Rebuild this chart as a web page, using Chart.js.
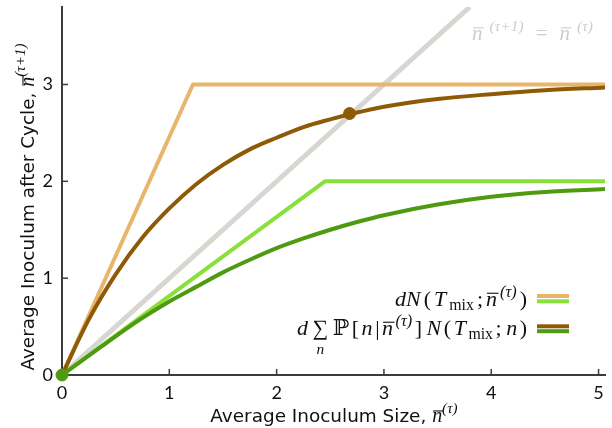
<!DOCTYPE html>
<html>
<head>
<meta charset="utf-8">
<script src="https://cdn.jsdelivr.net/npm/chart.js@4.4.1/dist/chart.umd.min.js"></script>
<style>
html,body{margin:0;padding:0;background:#fff;}
#wrap{width:612px;height:428px;position:relative;}
</style>
</head>
<body>
<div id="wrap"><canvas id="c" width="612" height="428"></canvas></div>
<script>
// ---- data ----
const curveX      = [0, 0.25, 0.5, 0.75, 1, 1.25, 1.5, 1.75, 2, 2.25, 2.5, 2.75, 3, 3.5, 4, 4.5, 5.06];
const brownAvg    = [0, 0.575, 1.04, 1.42, 1.72, 1.97, 2.17, 2.33, 2.45, 2.56, 2.64, 2.71, 2.77, 2.85, 2.90, 2.94, 2.97];
const greenAvg    = [0, 0.20, 0.40, 0.59, 0.76, 0.91, 1.06, 1.19, 1.31, 1.41, 1.50, 1.58, 1.65, 1.76, 1.84, 1.89, 1.92];
const orangeCapX  = [0, 1.22, 5.06];
const orangeCapY  = [0, 3, 3];
const limeCapX    = [0, 2.45, 5.06];
const limeCapY    = [0, 2, 2];
const identityX   = [0, 3.8];
const fixedBrown  = [2.68, 2.70];
const fixedGreen  = [0, 0];
const xTicks      = [0, 1, 2, 3, 4, 5];
const yTicks      = [0, 1, 2, 3];

const C = {
  orange: '#E8B56C', brown: '#8E5A06', lime: '#8AE03A', green: '#4E9A10', gray: '#D6D7D1', axis: '#3A3D40'
};

const pts = (xs, ys) => xs.map((x, i) => ({x, y: ys[i]}));

const SERIF = '"Liberation Serif", "DejaVu Serif", serif';
const SANS = '"DejaVu Sans", Lato, sans-serif';
const TICKF = 'Lato, "DejaVu Sans", sans-serif';

function segFont(s, size) {
  const sz = size * (s.k || 1);
  if (s.f === 's') return `${sz}px ${SANS}`;
  if (s.f === 'i') return `italic ${sz}px ${SERIF}`;
  return `${sz}px ${SERIF}`;
}
function richWidth(ctx, segs, size) {
  let w = 0;
  for (const s of segs) { ctx.font = segFont(s, size); w += ctx.measureText(s.t).width + (s.sp || 0); }
  return w;
}
function drawRich(ctx, segs, x, y, align, size, color, targetW) {
  let w = richWidth(ctx, segs, size);
  let extra = 0;
  if (targetW && segs.length > 1) { extra = Math.max(0, (targetW - w) / (segs.length - 1)); w = Math.max(w, targetW); }
  let cx = align === 'right' ? x - w : align === 'center' ? x - w / 2 : x;
  ctx.fillStyle = color; ctx.strokeStyle = color; ctx.textBaseline = 'alphabetic'; ctx.textAlign = 'left';
  segs.forEach((s, i) => {
    ctx.font = segFont(s, size);
    const tw = ctx.measureText(s.t).width;
    ctx.fillText(s.t, cx, y + (s.dy || 0));
    if (s.over) {
      ctx.lineWidth = 1.1;
      ctx.beginPath();
      const oy = y + (s.dy || 0) - size * 0.58;
      ctx.moveTo(cx + 1, oy); ctx.lineTo(cx + tw + 1.5, oy); ctx.stroke();
    }
    if (s.under) {
      ctx.font = `italic ${size * 0.7}px ${SERIF}`;
      const uw = ctx.measureText(s.under).width;
      ctx.fillText(s.under, cx + tw / 2 - uw / 2, y + size * 0.85);
    }
    cx += tw + (s.sp || 0) + (i < segs.length - 1 ? extra : 0);
  });
}

const SUP = -9;
const legend1 = [
  {t:'dN', f:'i'}, {t:'(', f:'r'}, {t:'T', f:'i'}, {t:'mix', f:'r', k:0.72, dy:3.5}, {t:';', f:'r'},
  {t:'n', f:'i', over:true}, {t:'(τ)', f:'i', k:0.74, dy:SUP}, {t:')', f:'r'}
];
const legend2 = [
  {t:'d', f:'i', sp:2}, {t:'∑', f:'r', k:1.0, under:'n', sp:2}, {t:'ℙ', f:'r'}, {t:'[', f:'r'}, {t:'n', f:'i'}, {t:'|', f:'r'},
  {t:'n', f:'i', over:true}, {t:'(τ)', f:'i', k:0.74, dy:SUP}, {t:']', f:'r', sp:2}, {t:'N', f:'i'}, {t:'(', f:'r'}, {t:'T', f:'i'},
  {t:'mix', f:'r', k:0.72, dy:3.5}, {t:';', f:'r', sp:2}, {t:'n', f:'i'}, {t:')', f:'r'}
];
const identityLabel = [
  {t:'n', f:'i', over:true}, {t:'(τ+1)', f:'i', k:0.74, dy:SUP, sp:5},
  {t:'=', f:'r', sp:5},
  {t:'n', f:'i', over:true}, {t:'(τ)', f:'i', k:0.74, dy:SUP}
];
const xTitle = [
  {t:'Average Inoculum Size, ', f:'s', k:0.97}, {t:'n', f:'i', k:1.05, over:true}, {t:'(τ)', f:'i', k:0.8, dy:-9}
];
const yTitle = [
  {t:'Average Inoculum after Cycle, ', f:'s', k:0.97}, {t:'n', f:'i', k:1.05, over:true}, {t:'(τ+1)', f:'i', k:0.8, dy:-9}
];

const decor = {
  id: 'decor',
  afterDraw(chart) {
    const ctx = chart.ctx, xs = chart.scales.x, ys = chart.scales.y, a = chart.chartArea;
    ctx.save();
    // inward tick marks
    ctx.strokeStyle = C.axis; ctx.lineWidth = 1.5;
    xTicks.forEach(v => { if (v === 0) return; const px = xs.getPixelForValue(v); ctx.beginPath(); ctx.moveTo(px, a.bottom); ctx.lineTo(px, a.bottom - 6); ctx.stroke(); });
    yTicks.forEach(v => { if (v === 0) return; const py = ys.getPixelForValue(v); ctx.beginPath(); ctx.moveTo(a.left, py); ctx.lineTo(a.left + 6, py); ctx.stroke(); });
    // axis titles
    drawRich(ctx, xTitle, 334, 422, 'center', 19, '#111');
    ctx.save(); ctx.translate(34, 207); ctx.rotate(-Math.PI / 2);
    drawRich(ctx, yTitle, 0, 0, 'center', 19, '#111');
    ctx.restore();
    // identity label
    drawRich(ctx, identityLabel, 472, 40, 'left', 21, '#CDCDCB', 121);
    // legend
    drawRich(ctx, legend1, 527, 306, 'right', 22, '#111', 132);
    drawRich(ctx, legend2, 527, 335, 'right', 22, '#111', 230);
    const sample = (y, col) => { ctx.strokeStyle = col; ctx.lineWidth = 4; ctx.lineCap = 'butt'; ctx.beginPath(); ctx.moveTo(537, y); ctx.lineTo(569, y); ctx.stroke(); };
    sample(296, C.orange); sample(301.3, C.lime); sample(326.3, C.brown); sample(331.2, C.green);
    ctx.restore();
  }
};

const lineDs = (data, color, width, extra) => Object.assign({
  type: 'line', data, borderColor: color, backgroundColor: color, borderWidth: width,
  pointRadius: 0, fill: false, tension: 0, borderJoinStyle: 'round', borderCapStyle: 'butt'
}, extra || {});

const zeroPad = s => { s.paddingTop = 0; s.paddingBottom = 0; s.paddingLeft = 0; s.paddingRight = 0; };

new Chart(document.getElementById('c'), {
  type: 'scatter',
  data: {
    datasets: [
      {type:'scatter', data:[{x: fixedBrown[0], y: fixedBrown[1]}], backgroundColor: C.brown, borderColor: C.brown, pointRadius: 6, clip: false},
      {type:'scatter', data:[{x: fixedGreen[0], y: fixedGreen[1]}], backgroundColor: C.green, borderColor: C.green, pointRadius: 6, clip: false},
      lineDs(pts(curveX, greenAvg), C.green, 4, {cubicInterpolationMode: 'monotone'}),
      lineDs(pts(curveX, brownAvg), C.brown, 4, {cubicInterpolationMode: 'monotone'}),
      lineDs(pts(limeCapX, limeCapY), C.lime, 4),
      lineDs(pts(orangeCapX, orangeCapY), C.orange, 4),
      lineDs(pts(identityX, identityX), C.gray, 5)
    ]
  },
  options: {
    responsive: false, animation: false, devicePixelRatio: 1,
    layout: {padding: {top: 6, right: 7, left: 0, bottom: 0}},
    plugins: {legend: {display: false}, tooltip: {enabled: false}},
    scales: {
      x: {
        type: 'linear', min: 0, max: 5.06,
        afterFit: s => { s.height = 53; zeroPad(s); },
        afterBuildTicks: s => { s.ticks = xTicks.map(v => ({value: v})); },
        grid: {display: false, drawTicks: false},
        border: {display: true, color: C.axis, width: 2},
        ticks: {color: '#111', font: {family: TICKF, size: 18}, padding: 7, maxRotation: 0}
      },
      y: {
        type: 'linear', min: 0, max: 3.8,
        afterFit: s => { s.width = 62; zeroPad(s); },
        afterBuildTicks: s => { s.ticks = yTicks.map(v => ({value: v})); },
        grid: {display: false, drawTicks: false},
        border: {display: true, color: C.axis, width: 2},
        ticks: {color: '#111', font: {family: TICKF, size: 18}, padding: 9}
      }
    }
  },
  plugins: [decor]
});
</script>
</body>
</html>
